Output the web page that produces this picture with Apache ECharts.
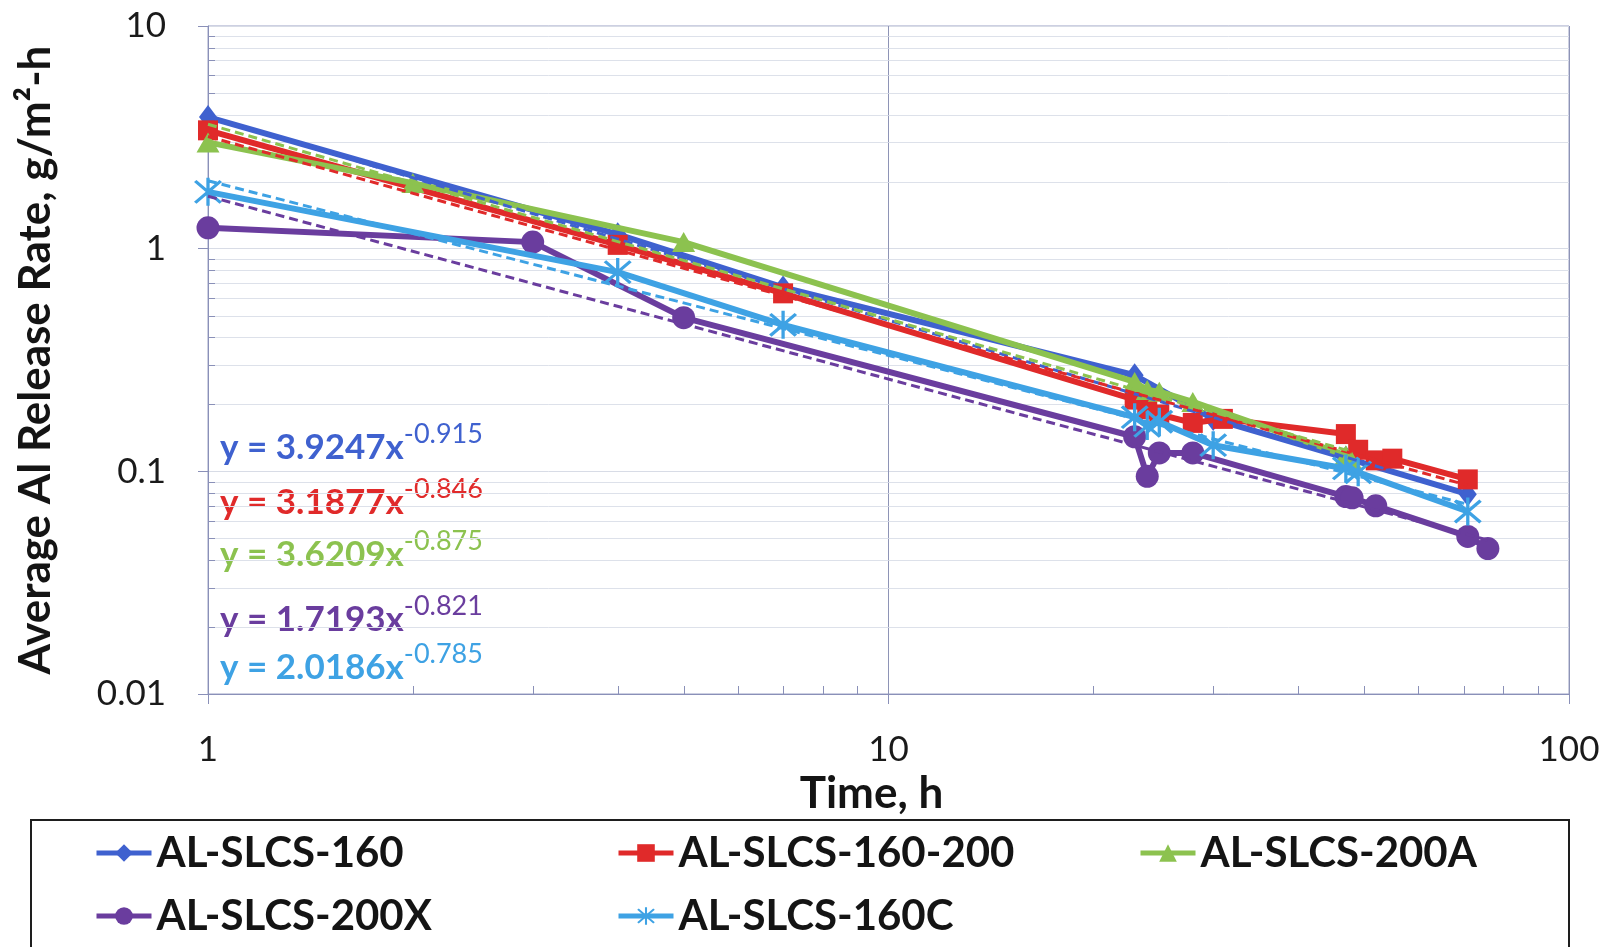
<!DOCTYPE html>
<html>
<head>
<meta charset="utf-8">
<script src="https://cdn.jsdelivr.net/npm/echarts@6/dist/echarts.min.js"></script>
<style>
  html, body { margin: 0; padding: 0; background: #ffffff; }
  #chart { width: 1610px; height: 947px; }
</style>
</head>
<body>
<div id="chart"></div>
<script>
// Series names and colours (legend order)
const seriesNames = ['AL-SLCS-160', 'AL-SLCS-160-200', 'AL-SLCS-200A', 'AL-SLCS-200X', 'AL-SLCS-160C'];
const seriesColors = ['#3f61cf', '#e02a2a', '#8cc24f', '#6a3d9e', '#3ea2e4'];

// Measured average Al release rate (g/m²-h) against time (h)
const time160 = [1, 4, 7, 23, 30, 47, 71];
const rate160 = [3.9, 1.16, 0.67, 0.27, 0.172, 0.115, 0.079];

const time160_200 = [1, 4, 7, 23, 24, 25, 28, 31, 47, 49, 52, 55, 71];
const rate160_200 = [3.4, 1.04, 0.63, 0.21, 0.19, 0.18, 0.165, 0.172, 0.147, 0.125, 0.112, 0.114, 0.092];

const time200A = [1, 2, 5, 23, 24, 25, 28, 47, 48];
const rate200A = [3.0, 1.97, 1.07, 0.252, 0.232, 0.228, 0.205, 0.118, 0.11];

const time200X = [1, 3, 5, 23, 24, 25, 28, 47, 48, 52, 71, 76];
const rate200X = [1.24, 1.07, 0.49, 0.143, 0.095, 0.121, 0.121, 0.077, 0.076, 0.07, 0.051, 0.045];

const time160C = [1, 4, 7, 23, 24, 25, 30, 47, 49, 71];
const rate160C = [1.8, 0.785, 0.455, 0.175, 0.16, 0.167, 0.131, 0.103, 0.099, 0.066];

// Power-law fits y = a·x^b, one per series, drawn over each series' time span
const fitA = [3.9247, 3.1877, 3.6209, 1.7193, 2.0186];
const fitB = [-0.915, -0.846, -0.875, -0.821, -0.785];

// Axis tick labels and minor tick steps
const yTickLabels = ['0.01', '0.1', '1', '10'];
const xTickLabels = ['1', '10', '100'];
const minorSteps = [2, 3, 4, 5, 6, 7, 8, 9];
const yDecades = [0.01, 0.1, 1];
const xDecades = [1, 10];

const timeSets = [time160, time160_200, time200A, time200X, time160C];
const rateSets = [rate160, rate160_200, rate200A, rate200X, rate160C];
const symbols = [
  'diamond', 'rect', 'triangle', 'circle',
  'path://M9 0H11V20H9Z M1.5 3L3 1.5L18.5 17L17 18.5Z M17 1.5L18.5 3L3 18.5L1.5 17Z'
];
const symbolSizes = [[18, 24], 20, [23, 20], 23, 28];

const FONT = 'Lato, "Open Sans", "DejaVu Sans", sans-serif';
const AXIS_COLOR = '#8a90b8';

const yMinor = [];
yDecades.forEach(d => minorSteps.forEach(s => yMinor.push(+(d * s).toPrecision(6))));
const xMinor = [];
xDecades.forEach(d => minorSteps.forEach(s => xMinor.push(+(d * s).toPrecision(6))));

const chart = echarts.init(document.getElementById('chart'));

const dataSeries = seriesNames.map((name, i) => ({
  name,
  type: 'line',
  z: 3 + i * 0.01,
  data: timeSets[i].map((t, k) => [t, rateSets[i][k]]),
  symbol: symbols[i],
  symbolSize: symbolSizes[i],
  showAllSymbol: true,
  lineStyle: { color: seriesColors[i], width: 6 },
  itemStyle: { color: seriesColors[i] },
  emphasis: { disabled: true },
  animation: false
}));

const trendSeries = seriesNames.map((name, i) => {
  const ts = timeSets[i];
  const t0 = ts[0], t1 = ts[ts.length - 1];
  return {
    name: name + ' fit',
    type: 'line',
    z: 4,
    data: [[t0, fitA[i] * Math.pow(t0, fitB[i])], [t1, fitA[i] * Math.pow(t1, fitB[i])]],
    symbol: 'none',
    lineStyle: { color: seriesColors[i], width: 3, type: [9, 5] },
    emphasis: { disabled: true },
    silent: true,
    animation: false
  };
});

// Light horizontal minor gridlines with short inside ticks on the value axis
const yMinorSeries = {
  type: 'custom',
  silent: true,
  z: 1,
  animation: false,
  data: yMinor.map(v => [1, v]),
  renderItem(params, api) {
    const cs = params.coordSys;
    const y = Math.round(api.coord([1, api.value(1)])[1]) + 0.5;
    return {
      type: 'group',
      children: [
        { type: 'line', shape: { x1: cs.x, y1: y, x2: cs.x + cs.width, y2: y },
          style: { stroke: '#dde1ea', lineWidth: 1 } },
        { type: 'line', shape: { x1: cs.x, y1: y, x2: cs.x + 7, y2: y },
          style: { stroke: AXIS_COLOR, lineWidth: 1 } }
      ]
    };
  }
};

// Short inside minor ticks on the time axis
const xMinorSeries = {
  type: 'custom',
  silent: true,
  z: 1,
  animation: false,
  data: xMinor.map(v => [v, 0.01]),
  renderItem(params, api) {
    const cs = params.coordSys;
    const x = Math.round(api.coord([api.value(0), 0.01])[0]) + 0.5;
    const yb = cs.y + cs.height;
    return { type: 'line', shape: { x1: x, y1: yb, x2: x, y2: yb - 8 },
      style: { stroke: AXIS_COLOR, lineWidth: 1 } };
  }
};

function fmtTick(list) {
  return v => {
    const s = String(+(+v).toPrecision(6));
    return list.includes(s) ? s : '';
  };
}

// One legend block per entry, laid out as a 3-column table
const legendCols = [94, 616, 1138];
const legendRows = [832, 895];
const legends = seriesNames.map((name, i) => ({
  data: [name],
  left: legendCols[i % 3],
  top: legendRows[Math.floor(i / 3)],
  padding: 0,
  itemWidth: 55,
  itemHeight: 22,
  itemGap: 0,
  selectedMode: false,
  lineStyle: { width: 5 },
  textStyle: { fontFamily: FONT, fontWeight: 'bold', fontSize: 42, color: '#141414', padding: [0, 0, 0, 0] }
}));

// Fit equations, stacked at the lower left of the plot
const eqTops = [421, 476, 528, 593, 641];
const eqGraphics = fitA.map((a, i) => ({
  type: 'text',
  left: 220,
  top: eqTops[i],
  silent: true,
  style: {
    text: '{m|y = ' + a.toFixed(4) + 'x}{s|' + fitB[i].toFixed(3) + '}',
    rich: {
      m: { fontFamily: FONT, fontWeight: 'bold', fontSize: 35, fill: seriesColors[i], lineHeight: 44, verticalAlign: 'bottom' },
      s: { fontFamily: FONT, fontSize: 27, fill: seriesColors[i], lineHeight: 28, verticalAlign: 'top' }
    }
  }
}));

const option = {
  backgroundColor: '#ffffff',
  animation: false,
  grid: {
    left: 208, right: 41, top: 26, bottom: 253,
    show: true, borderColor: '#9aa0c4', borderWidth: 1, backgroundColor: 'transparent'
  },
  legend: legends,
  xAxis: {
    type: 'log',
    logBase: 10,
    min: 1,
    max: 100,
    name: 'Time, h',
    nameLocation: 'middle',
    nameGap: 77,
    nameTextStyle: { fontFamily: FONT, fontWeight: 'bold', fontSize: 44, color: '#141414', padding: [0, 34, 0, 0] },
    axisLine: { show: true, lineStyle: { color: AXIS_COLOR, width: 1 } },
    axisTick: { show: true, inside: false, length: 10, lineStyle: { color: AXIS_COLOR } },
    axisLabel: { fontFamily: FONT, fontSize: 35, color: '#1a1a1a', margin: 38, formatter: fmtTick(xTickLabels) },
    splitLine: { show: true, lineStyle: { color: '#8e94b6', width: 1 } },
    minorTick: { show: false },
    minorSplitLine: { show: false }
  },
  yAxis: {
    type: 'log',
    logBase: 10,
    min: 0.01,
    max: 10,
    name: 'Average Al Release Rate, g/m²-h',
    nameLocation: 'middle',
    nameGap: 150,
    nameRotate: 90,
    nameTextStyle: { fontFamily: FONT, fontWeight: 'bold', fontSize: 44, color: '#141414' },
    axisLine: { show: true, lineStyle: { color: AXIS_COLOR, width: 1 } },
    axisTick: { show: true, inside: false, length: 10, lineStyle: { color: AXIS_COLOR } },
    axisLabel: { fontFamily: FONT, fontSize: 35, color: '#1a1a1a', margin: 42, formatter: fmtTick(yTickLabels) },
    splitLine: { show: true, lineStyle: { color: '#d8dce6', width: 1 } },
    minorTick: { show: false },
    minorSplitLine: { show: false }
  },
  series: [yMinorSeries, xMinorSeries].concat(dataSeries, trendSeries),
  graphic: [
    {
      type: 'rect',
      silent: true,
      shape: { x: 31, y: 820, width: 1538, height: 150 },
      style: { fill: 'none', stroke: '#1e1e1e', lineWidth: 2 }
    }
  ].concat(eqGraphics)
};

chart.setOption(option);
</script>
</body>
</html>
